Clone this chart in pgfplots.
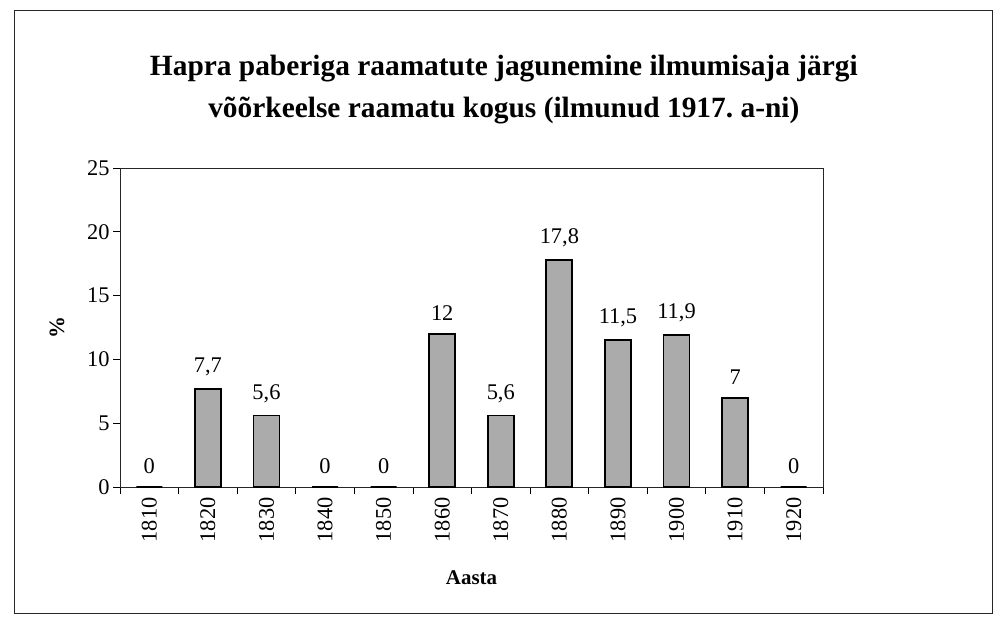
\documentclass[border=0pt]{standalone}
\usepackage{pgfplots}
\pgfplotsset{compat=1.18}
\usepackage{fontspec}
\setmainfont{Liberation Serif}
\begin{document}
\begin{tikzpicture}
\begin{axis}[
  scale only axis, width=703bp, height=319bp,
  /pgf/number format/assume math mode=true,
  /pgf/number format/use comma,
  ymin=0, ymax=25, ytick={0,5,10,15,20,25},
  xmin=-0.5, xmax=11.5,
  xtick={0,1,2,3,4,5,6,7,8,9,10,11},
  xticklabels={1810,1820,1830,1840,1850,1860,1870,1880,1890,1900,1910,1920},
  minor xtick={-0.5,0.5,1.5,2.5,3.5,4.5,5.5,6.5,7.5,8.5,9.5,10.5,11.5},
  major x tick style={draw=none},
  minor x tick style={black, line width=0.8bp},
  y tick style={black, line width=0.8bp},
  tick align=outside, tick pos=left,
  major tick length=7bp, minor tick length=7bp,
  x tick label style={rotate=90, anchor=east, font=\fontsize{22.5}{26}\selectfont},
  y tick label style={font=\fontsize{22.5}{26}\selectfont},
  axis line style={black!85, line width=0.9bp},
  ybar, bar width=26bp,
  nodes near coords,
  nodes near coords style={font=\fontsize{22.5}{26}\selectfont, inner sep=0pt, anchor=south, yshift=12bp},
  xlabel={Aasta},
  xlabel style={font=\bfseries\fontsize{21}{24}\selectfont, at={(rel axis cs:0.5,-0.285)}, anchor=center},
  ylabel={\%},
  ylabel style={font=\bfseries\fontsize{22}{24}\selectfont, at={(rel axis cs:-0.0896,0.5)}, anchor=center},
  title={Hapra paberiga raamatute jagunemine ilmumisaja järgi\\võõrkeelse raamatu kogus (ilmunud 1917.\ a-ni)},
  title style={align=center, font=\bfseries\fontsize{29.5}{42}\selectfont, at={(rel axis cs:0.546,1.226)}, anchor=center},
]
\addplot[draw=black, line width=1.8bp, fill=black!33] coordinates {
  (0,0) (1,7.7) (2,5.6) (3,0) (4,0) (5,12) (6,5.6) (7,17.8) (8,11.5) (9,11.9) (10,7) (11,0)
};
\end{axis}
\draw[black!85, line width=0.9bp] ([xshift=-106bp,yshift=-126bp]current axis.south west) rectangle ([xshift=169bp,yshift=158bp]current axis.north east);
\pgfresetboundingbox
\path ([xshift=-120bp,yshift=-137bp]current axis.south west) rectangle ([xshift=170bp,yshift=168bp]current axis.north east);
\end{tikzpicture}
\end{document}
